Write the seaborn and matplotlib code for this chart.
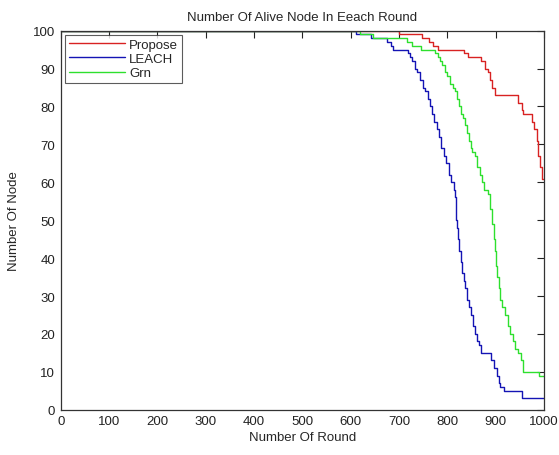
import numpy as np
import pandas as pd
import matplotlib
matplotlib.use("Agg")
import matplotlib.pyplot as plt
import seaborn as sns

# step points (round, alive nodes)
propose_rounds = [0, 700, 748, 762, 770, 780, 835, 842, 870, 877, 884, 889, 893, 899,
                  947, 954, 957, 976, 980, 985, 988, 992, 996, 1000]
propose_nodes = [100, 99, 98, 97, 96, 95, 94, 93, 92, 90, 89, 87, 85, 83,
                 81, 79, 78, 76, 74, 71, 67, 64, 61, 61]

leach_rounds = [0, 612, 643, 676, 684, 688, 718, 722, 727, 733, 738, 743, 749, 754,
                760, 764, 768, 773, 778, 782, 787, 793, 798, 804, 808, 813, 815, 817,
                819, 821, 823, 825, 828, 831, 834, 837, 841, 845, 849, 854, 858, 862,
                866, 870, 891, 897, 902, 906, 910, 918, 955, 1000]
leach_nodes = [100, 99, 98, 97, 96, 95, 94, 93, 92, 90, 89, 87, 85, 84,
               82, 80, 78, 76, 74, 72, 69, 67, 65, 62, 60, 58, 56, 53,
               50, 48, 45, 42, 39, 36, 34, 32, 29, 27, 25, 22, 20, 18,
               17, 15, 13, 11, 9, 7, 6, 5, 3, 3]

grn_rounds = [0, 620, 647, 716, 726, 745, 775, 780, 785, 790, 795, 800, 805, 811,
              816, 820, 824, 828, 832, 836, 840, 844, 848, 852, 858, 862, 867, 872,
              876, 885, 888, 892, 896, 899, 901, 903, 906, 909, 914, 919, 925, 930,
              935, 940, 947, 952, 957, 990, 1000]
grn_nodes = [100, 99, 98, 97, 96, 95, 94, 93, 92, 91, 89, 88, 86, 85,
             84, 82, 80, 78, 77, 75, 73, 71, 69, 68, 67, 64, 62, 60,
             58, 57, 53, 49, 45, 42, 38, 35, 32, 29, 27, 25, 22, 20,
             18, 16, 15, 13, 10, 9, 9]

series = [("Propose", propose_rounds, propose_nodes, "#d82222"),
          ("LEACH", leach_rounds, leach_nodes, "#1414b4"),
          ("Grn", grn_rounds, grn_nodes, "#2ee02e")]

sns.set_style("white")
plt.rcParams["font.family"] = ["Liberation Sans", "DejaVu Sans"]

fig = plt.figure(figsize=(5.59, 4.56), dpi=100)
ax = fig.add_axes([0.1086, 0.0993, 0.8645, 0.8312])

for name, rx, ny, col in series:
    sns.lineplot(x=rx, y=ny, ax=ax, color=col, linewidth=1.0,
                 drawstyle="steps-post", label=name, estimator=None)

ax.set_xlim(0, 1000)
ax.set_ylim(0, 100)
ax.set_xticks(np.arange(0, 1001, 100))
ax.set_yticks(np.arange(0, 101, 10))
ax.tick_params(direction="in", length=5, width=0.8, top=True, right=True,
               labelsize=9.5, colors="#222222", pad=4)
for s in ax.spines.values():
    s.set_color("#333333")
    s.set_linewidth(0.9)

ax.set_title("Number Of Alive Node In Eeach Round", fontsize=9.5, pad=8)
ax.set_xlabel("Number Of Round", fontsize=9.5, labelpad=3)
ax.set_ylabel("Number Of Node", fontsize=9.5, labelpad=9)

leg = ax.legend(loc="upper left", fontsize=9.5, frameon=True, fancybox=False,
                handlelength=4.3, borderaxespad=0.35, labelspacing=0.15,
                borderpad=0.25, handletextpad=0.3)
leg.get_frame().set_edgecolor("#333333")
leg.get_frame().set_linewidth(0.8)

fig.savefig("out.png", dpi=100)
